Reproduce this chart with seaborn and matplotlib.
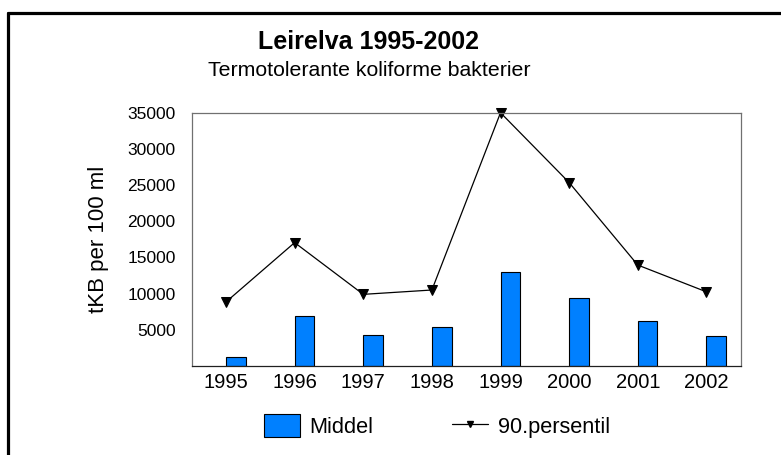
import numpy as np
import pandas as pd
import matplotlib
matplotlib.use("Agg")
import matplotlib.pyplot as plt
from matplotlib.lines import Line2D
from matplotlib.patches import Patch
from matplotlib.ticker import FixedLocator
import seaborn as sns

years = ["1995", "1996", "1997", "1998", "1999", "2000", "2001", "2002"]
middel = [1300, 6900, 4300, 5350, 13050, 9350, 6250, 4200]
persentil90 = [8850, 17050, 9900, 10500, 35000, 25350, 13950, 10250]
title = "Leirelva 1995-2002"
subtitle = "Termotolerante koliforme bakterier"
ylabel = "tKB per 100 ml"
legend_labels = ["Middel", "90.persentil"]

sns.set_style("white")
plt.rcParams["font.family"] = ["Liberation Sans", "DejaVu Sans"]
plt.rcParams["text.color"] = "black"
plt.rcParams["axes.labelcolor"] = "black"
plt.rcParams["xtick.labelcolor"] = "black"
plt.rcParams["ytick.labelcolor"] = "black"

df = pd.DataFrame({"Year": years, "Middel": middel, "P90": persentil90})
df["idx"] = np.arange(len(years))

fig = plt.figure(figsize=(7.81, 4.55), dpi=100)
ax = fig.add_axes([191.7 / 781, 1 - 366 / 455, (740.7 - 191.7) / 781, (366 - 112.7) / 455])

bw = 0.287
blue = "#0080FF"
sns.barplot(data=df, x="Year", y="Middel", width=bw, color=blue, edgecolor="black",
            linewidth=0.8, saturation=1, ax=ax)
for p in ax.patches:
    p.set_x(p.get_x() + bw / 2)

sns.lineplot(data=df, x="idx", y="P90", color="black", linewidth=0.9, marker="v",
             markersize=7, markeredgecolor="black", markerfacecolor="black",
             ax=ax, clip_on=False)

ax.set_xlim(-0.5, 7.5)
ax.set_ylim(0, 35000)
ax.set_xticks(range(len(years)))
ax.set_xticklabels(years, fontsize=14.5)
ax.xaxis.set_minor_locator(FixedLocator(np.arange(-0.5, 8, 1)))
ax.tick_params(axis="x", which="major", length=0, pad=5)
ax.tick_params(axis="x", which="minor", direction="inout", length=8, color="#808080", width=0.8)
ax.set_yticks(np.arange(5000, 35001, 5000))
ax.set_yticklabels([str(v) for v in range(5000, 35001, 5000)], fontsize=12.5)
ax.yaxis.set_minor_locator(FixedLocator(np.arange(2500, 35000, 5000)))
ax.tick_params(axis="y", which="major", direction="inout", length=13, color="#808080", width=0.8, pad=5)
ax.tick_params(axis="y", which="minor", direction="inout", length=8, color="#808080", width=0.8)
ax.set_xlabel("")
ax.set_ylabel(ylabel, fontsize=16, labelpad=13)
for s in ["left", "top", "right"]:
    ax.spines[s].set_color("#707070")
    ax.spines[s].set_linewidth(0.9)
ax.spines["bottom"].set_color("#202020")
ax.spines["bottom"].set_linewidth(0.9)

fig.text(368 / 781, 1 - 42 / 455, title, ha="center", va="center", fontsize=18, fontweight="bold")
fig.text(369 / 781, 1 - 70 / 455, subtitle, ha="center", va="center", fontsize=15.3)

handles = [Patch(facecolor=blue, edgecolor="black", linewidth=0.8),
           Line2D([], [], color="black", linewidth=0.9, marker="v", markersize=5)]
fig.legend(handles, legend_labels, loc="center", bbox_to_anchor=(437 / 781, 1 - 426 / 455),
           ncol=2, frameon=False, fontsize=15.7, handlelength=1.65, handleheight=1.2,
           handletextpad=0.45, columnspacing=3.6)

# outer frame (left and top edges visible)
yb = 1 - 12.5 / 455
xb = 8 / 781
fig.add_artist(Line2D([xb, xb], [0, yb], transform=fig.transFigure, color="black", linewidth=2.3))
fig.add_artist(Line2D([xb, 1], [yb, yb], transform=fig.transFigure, color="black", linewidth=2.3))

fig.savefig("out.png", dpi=100)
